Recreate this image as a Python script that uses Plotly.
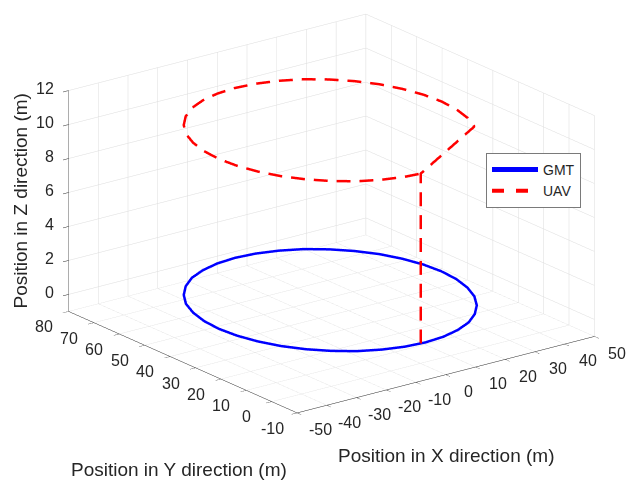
import plotly.graph_objects as go

# GMT ground trajectory (z = 0)
gmt_x = [40.5, 39.9, 38.2, 35.5, 31.7, 27.1, 21.8, 15.8, 9.5, 3.0,
         -3.5, -9.8, -15.8, -21.1, -25.7, -29.5, -32.2, -33.9, -34.5,
         -33.9, -32.2, -29.5, -25.7, -21.1, -15.8, -9.8, -3.5, 3.0,
         9.5, 15.8, 21.8, 27.1, 31.7, 35.5, 38.2, 39.9, 40.5]
gmt_y = [39.0, 45.5, 51.8, 57.8, 63.1, 67.7, 71.5, 74.2, 75.9, 76.5,
         75.9, 74.2, 71.5, 67.7, 63.1, 57.8, 51.8, 45.5, 39.0,
         32.5, 26.2, 20.3, 14.9, 10.3, 6.5, 3.8, 2.1, 1.5,
         2.1, 3.8, 6.5, 10.3, 14.9, 20.3, 26.2, 32.5, 39.0]
gmt_z = [0.0] * len(gmt_x)

# UAV trajectory: climb, then loop at z = 10
uav_x = [1.5, 1.5, 35.5, 38.2, 39.9, 40.5, 39.9, 38.2, 35.5, 31.7, 27.1,
         21.8, 15.8, 9.5, 3.0, -3.5, -9.8, -15.8, -21.1, -25.7, -29.5,
         -32.2, -33.9, -34.5, -33.9, -32.2, -29.5, -25.7, -21.1, -15.8,
         -9.8, -3.5, 1.5]
uav_y = [1.6, 1.6, 20.3, 26.2, 32.5, 39.0, 45.5, 51.8, 57.8, 63.1, 67.7,
         71.5, 74.2, 75.9, 76.5, 75.9, 74.2, 71.5, 67.7, 63.1, 57.8,
         51.8, 45.5, 39.0, 32.5, 26.2, 20.3, 14.9, 10.3, 6.5,
         3.8, 2.1, 1.6]
uav_z = [0.0] + [10.0] * (len(uav_x) - 1)

x_ticks = [-50, -40, -30, -20, -10, 0, 10, 20, 30, 40, 50]
y_ticks = [-10, 0, 10, 20, 30, 40, 50, 60, 70, 80]
z_ticks = [0, 2, 4, 6, 8, 10, 12]
x_range = [-50, 50]
y_range = [-10, 80]
z_range = [-1, 12]

FONT = "Liberation Sans, Arial, sans-serif"
TXT = "#262626"
GRID = "#dcdcdc"
S = 1.75


def screen_len(p, q):
    # approximate on-screen distance (px) between two data points (view az -37.5, el 30)
    du = (q[0] - p[0]) / (x_range[1] - x_range[0])
    dv = (q[1] - p[1]) / (y_range[1] - y_range[0])
    dw = (q[2] - p[2]) / (z_range[1] - z_range[0])
    sx = 299 * du - 230 * dv
    sy = 77 * du + 102 * dv + 222 * dw
    return (sx * sx + sy * sy) ** 0.5


def dashed(xs, ys, zs, on=14.0, off=9.0):
    """Split a polyline into dash pieces (MATLAB '--' style)."""
    ox, oy, oz = [], [], []
    pts = list(zip(xs, ys, zs))
    drawing, left = True, on
    cur = [pts[0]]
    for p, q in zip(pts[:-1], pts[1:]):
        L = screen_len(p, q)
        t0 = 0.0
        while L > 0 and (L * (1 - t0)) > left:
            t1 = t0 + left / L
            m = tuple(p[k] + (q[k] - p[k]) * t1 for k in range(3))
            if drawing:
                cur.append(m)
                for c in cur:
                    ox.append(c[0]); oy.append(c[1]); oz.append(c[2])
                ox.append(None); oy.append(None); oz.append(None)
                cur = []
                drawing, left = False, off
            else:
                cur = [m]
                drawing, left = True, on
            t0 = t1
        left -= L * (1 - t0)
        if drawing:
            cur.append(q)
    if drawing and len(cur) > 1:
        for c in cur:
            ox.append(c[0]); oy.append(c[1]); oz.append(c[2])
    return ox, oy, oz


dx, dy, dz = dashed(uav_x, uav_y, uav_z)

fig = go.Figure()
fig.add_trace(go.Scatter3d(x=gmt_x, y=gmt_y, z=gmt_z, mode="lines", name="GMT",
                           line=dict(color="#0000ff", width=5)))
fig.add_trace(go.Scatter3d(x=dx, y=dy, z=dz, mode="lines", name="UAV",
                           showlegend=False, legendgroup="uav",
                           line=dict(color="#ff0000", width=5)))
# legend entry for the dashed UAV line
fig.add_trace(go.Scatter3d(x=[None], y=[None], z=[None], mode="lines", name="UAV",
                           legendgroup="uav",
                           line=dict(color="#ff0000", width=4, dash="dash")))


def ax(rng, ticks):
    return dict(range=rng, tickvals=ticks, showticklabels=False,
                title=dict(text=""), showgrid=True, gridcolor=GRID, gridwidth=1,
                showbackground=False, zeroline=False, showline=True,
                linecolor=TXT, linewidth=1, ticks="outside", ticklen=7,
                tickcolor=TXT, showspikes=False, autorange=False)


tick_font = dict(family=FONT, size=16, color=TXT)
scene_ann = []
for t in x_ticks:
    scene_ann.append(dict(x=t, y=y_range[0], z=z_range[0], text=str(t),
                          showarrow=False, xanchor="center", yanchor="middle",
                          xshift=23, yshift=-17, font=tick_font))
for t in y_ticks:
    scene_ann.append(dict(x=x_range[0], y=t, z=z_range[0], text=str(t),
                          showarrow=False, xanchor="center", yanchor="middle",
                          xshift=-25, yshift=-15.5, font=tick_font))
for t in z_ticks:
    scene_ann.append(dict(x=x_range[0], y=y_range[1], z=t, text=str(t),
                          showarrow=False, xanchor="right", yanchor="middle",
                          xshift=-13, yshift=2, font=tick_font))

fig.update_layout(
    width=629, height=485,
    margin=dict(l=0, r=0, t=0, b=0),
    paper_bgcolor="white",
    font=dict(family=FONT, color=TXT),
    scene=dict(
        domain=dict(x=[0.054, 1.0], y=[0.12, 1.0]),
        xaxis=ax(x_range, x_ticks),
        yaxis=ax(y_range, y_ticks),
        zaxis=ax(z_range, z_ticks),
        aspectmode="manual",
        aspectratio=dict(x=1 * S, y=1.01 * S, z=0.628 * S),
        camera=dict(eye=dict(x=-0.570 * 2, y=-0.749 * 2, z=0.338 * 2),
                    up=dict(x=0, y=0, z=1), center=dict(x=0, y=0, z=0),
                    projection=dict(type="orthographic")),
        annotations=scene_ann,
    ),
    legend=dict(x=486 / 629, y=1 - 153 / 485, xanchor="left", yanchor="top",
                bgcolor="white", bordercolor="#7a7a7a", borderwidth=1,
                itemwidth=46, tracegroupgap=0,
                font=dict(family=FONT, size=14, color=TXT)),
    annotations=[
        dict(text="Position in X direction (m)", x=446 / 629, y=1 - 455 / 485,
             xref="paper", yref="paper", showarrow=False,
             xanchor="center", yanchor="middle",
             font=dict(family=FONT, size=19, color=TXT)),
        dict(text="Position in Y direction (m)", x=179 / 629, y=1 - 469 / 485,
             xref="paper", yref="paper", showarrow=False,
             xanchor="center", yanchor="middle",
             font=dict(family=FONT, size=19, color=TXT)),
        dict(text="Position in Z direction (m)", x=19.5 / 629, y=1 - 201 / 485,
             xref="paper", yref="paper", showarrow=False, textangle=-90,
             xanchor="center", yanchor="middle",
             font=dict(family=FONT, size=19, color=TXT)),
    ],
)

fig.write_html("out.html", config={"displayModeBar": False})
